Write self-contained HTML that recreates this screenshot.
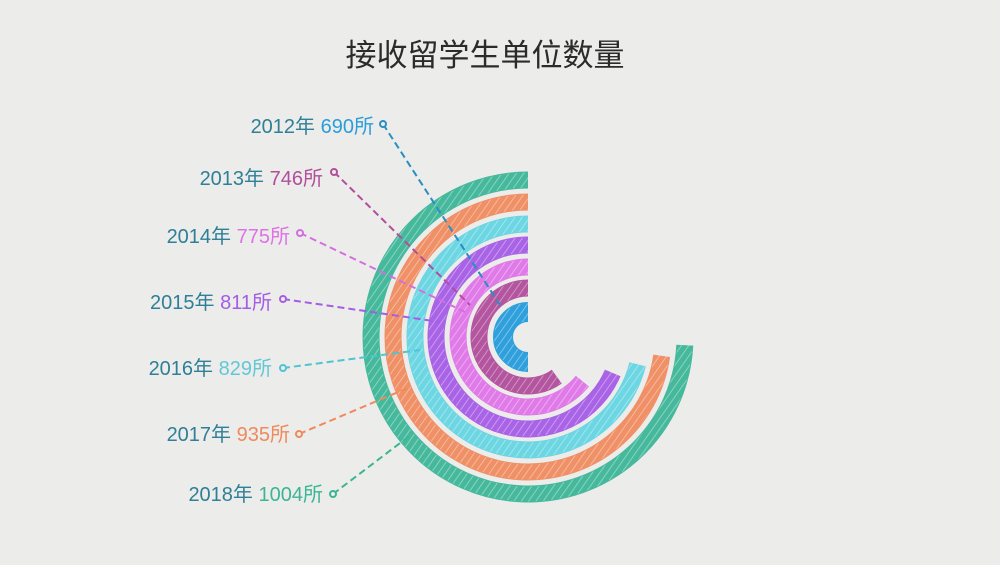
<!DOCTYPE html>
<html><head><meta charset="utf-8"><style>
html,body{margin:0;padding:0;background:#ececea;}
svg{display:block}
text{font-family:"Liberation Sans","Noto Sans CJK SC",sans-serif;}
</style></head><body>
<svg width="1000" height="565" viewBox="0 0 1000 565" xmlns="http://www.w3.org/2000/svg">
<defs>
<pattern id="h" width="6" height="6" patternUnits="userSpaceOnUse" patternTransform="rotate(35)">
<line x1="0" y1="0" x2="0" y2="6" stroke="#fff" stroke-width="1.6" opacity="0.45"/>
</pattern>
</defs>
<rect width="1000" height="565" fill="#ececea"/>
<text x="485" y="66" font-size="31" fill="#2b2b2b" text-anchor="middle">接收留学生单位数量</text>
<g fill="none" stroke-width="17">
<path d="M528 180 A157 157 0 1 0 684.8 345.2" stroke="#46b99c"/>
<path d="M528 202 A135 135 0 1 0 661.7 355.8" stroke="#f09066"/>
<path d="M528 224 A113 113 0 1 0 637.6 364.3" stroke="#6cd6e2"/>
<path d="M528 245 A92 92 0 1 0 612.7 372.9" stroke="#a963e6"/>
<path d="M528 267 A70 70 0 1 0 582.4 381.1" stroke="#e07ae8"/>
<path d="M528 288 A49 49 0 1 0 556.8 376.6" stroke="#b4559f"/>
<path d="M528 312 A25 25 0 1 0 528 362" stroke="#2fa0dc" stroke-width="20"/>
</g>
<g fill="none" stroke-width="15" stroke="url(#h)">
<path d="M528 180 A157 157 0 1 0 684.8 345.2"/>
<path d="M528 202 A135 135 0 1 0 661.7 355.8"/>
<path d="M528 224 A113 113 0 1 0 637.6 364.3"/>
<path d="M528 245 A92 92 0 1 0 612.7 372.9"/>
<path d="M528 267 A70 70 0 1 0 582.4 381.1"/>
<path d="M528 288 A49 49 0 1 0 556.8 376.6"/>
<path d="M528 312 A25 25 0 1 0 528 362" stroke-width="18"/>
</g>
<g stroke-width="2" stroke-dasharray="7,4" fill="none">
<line x1="383" y1="124" x2="500" y2="305" stroke="#2a8fc0"/>
<line x1="334" y1="172" x2="470" y2="305" stroke="#b24e9c"/>
<line x1="300" y1="233" x2="465" y2="312" stroke="#d46ee0"/>
<line x1="283" y1="299" x2="440" y2="322" stroke="#a45de6"/>
<line x1="283" y1="368" x2="420" y2="350" stroke="#4fc4d2"/>
<line x1="299" y1="434" x2="410" y2="387" stroke="#ee8a5c"/>
<line x1="333" y1="494" x2="412" y2="434" stroke="#3cb596"/>
</g>
<g fill="#ececea" stroke-width="2">
<circle cx="383" cy="124" r="3" stroke="#2a8fc0"/>
<circle cx="334" cy="172" r="3" stroke="#b24e9c"/>
<circle cx="300" cy="233" r="3" stroke="#d46ee0"/>
<circle cx="283" cy="299" r="3" stroke="#a45de6"/>
<circle cx="283" cy="368" r="3" stroke="#4fc4d2"/>
<circle cx="299" cy="434" r="3" stroke="#ee8a5c"/>
<circle cx="333" cy="494" r="3" stroke="#3cb596"/>
</g>
<g font-size="20" text-anchor="end" fill="#2e7f97">
<text x="374" y="133">2012年 <tspan fill="#2a9ddb">690所</tspan></text>
<text x="323" y="185">2013年 <tspan fill="#b24e9c">746所</tspan></text>
<text x="290" y="243">2014年 <tspan fill="#de72e6">775所</tspan></text>
<text x="272" y="309">2015年 <tspan fill="#a45de6">811所</tspan></text>
<text x="272" y="375">2016年 <tspan fill="#62c8d6">829所</tspan></text>
<text x="290" y="441">2017年 <tspan fill="#ee8a5c">935所</tspan></text>
<text x="323" y="501">2018年 <tspan fill="#3cb596">1004所</tspan></text>
</g>
</svg>
</body></html>
